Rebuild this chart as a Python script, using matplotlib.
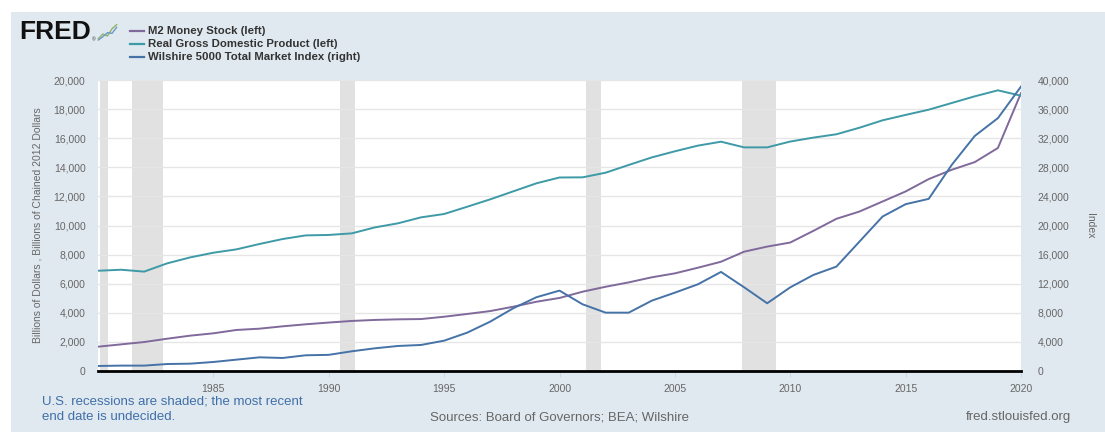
import matplotlib
matplotlib.use('Agg')
import matplotlib.pyplot as plt
from matplotlib.patches import Rectangle

plt.rcParams['font.family'] = ['Liberation Sans', 'DejaVu Sans']

# ---- data ----
years = list(range(1980, 2021))
m2 = [1670, 1830, 1990, 2220, 2430, 2590, 2820, 2910, 3070, 3210, 3330,
      3440, 3510, 3550, 3570, 3730, 3920, 4120, 4420, 4760, 5020,
      5450, 5790, 6090, 6440, 6710, 7100, 7510, 8200, 8550, 8830,
      9630, 10460, 10960, 11650, 12340, 13190, 13830, 14360, 15330, 19100]
gdp = [6890, 6960, 6830, 7400, 7810, 8130, 8360, 8730, 9070, 9320, 9350,
       9460, 9870, 10150, 10560, 10790, 11290, 11800, 12350, 12900, 13300,
       13310, 13630, 14160, 14680, 15100, 15490, 15760, 15370, 15370, 15770,
       16040, 16270, 16720, 17230, 17600, 17960, 18420, 18880, 19290, 18920]
wilshire = [690, 740, 740, 960, 1010, 1240, 1560, 1880, 1790, 2160, 2220,
            2710, 3120, 3440, 3580, 4170, 5270, 6790, 8630, 10140, 11050,
            9170, 8020, 8020, 9670, 10770, 11920, 13620, 11510, 9310, 11500,
            13200, 14350, 17790, 21230, 22930, 23660, 28340, 32320, 34760, 39100]
recessions = [(1980.08, 1980.45), (1981.47, 1982.80), (1990.50, 1991.13),
              (2001.15, 2001.82), (2007.92, 2009.40)]
x_ticks = [1985, 1990, 1995, 2000, 2005, 2010, 2015, 2020]
left_ticks = list(range(0, 20001, 2000))
right_ticks = list(range(0, 40001, 4000))
series_labels = ['M2 Money Stock (left)', 'Real Gross Domestic Product (left)',
                 'Wilshire 5000 Total Market Index (right)']
colors = ['#80699b', '#3d9aa6', '#4572a7']

W, H = 1105, 432
fig = plt.figure(figsize=(W / 100, H / 100), dpi=100)
fig.patch.set_facecolor('white')
fig.patches.append(Rectangle((11 / W, 0), 1 - 11 / W, (H - 12) / H,
                             transform=fig.transFigure, facecolor='#e1e9f0',
                             edgecolor='none', zorder=-10))

def fx(px):
    return px / W

def fy(py):
    return 1 - py / H

x0, x1, ytop, ybot = 98, 1021, 80, 371
ax = fig.add_axes([fx(x0), fy(ybot), fx(x1) - fx(x0), fy(ytop) - fy(ybot)])
ax.set_facecolor('white')
ax.set_xlim(1980, 2020)
ax.set_ylim(0, 20000)
for s, e in recessions:
    ax.axvspan(s, e, color='#e1e1e1', lw=0, zorder=0)
ax.set_yticks(left_ticks)
ax.set_yticklabels([f'{v:,}' for v in left_ticks])
ax.grid(axis='y', color='#e6e6e6', lw=1, zorder=0.5)
ax.set_xticks(x_ticks)
ax.set_xticklabels([str(t) for t in x_ticks])
ax.tick_params(axis='y', length=0, pad=9, labelsize=7.5, labelcolor='#666666')
ax.tick_params(axis='x', length=4, color='#ccd6eb', pad=5, labelsize=7.5,
               labelcolor='#666666')
for sp in ['top', 'left', 'right']:
    ax.spines[sp].set_visible(False)
ax.spines['bottom'].set_color('black')
ax.spines['bottom'].set_linewidth(2)
ax.spines['bottom'].set_zorder(5)
ax.set_ylabel('Billions of Dollars , Billions of Chained 2012 Dollars',
              fontsize=7.5, color='#666666', labelpad=8)

ax.plot(years, m2, color=colors[0], lw=1.4, zorder=3)
ax.plot(years, gdp, color=colors[1], lw=1.4, zorder=3)

ax2 = ax.twinx()
ax2.set_ylim(0, 40000)
ax2.set_yticks(right_ticks)
ax2.set_yticklabels([f'{v:,}' for v in right_ticks])
ax2.tick_params(axis='y', length=0, pad=12, labelsize=7.5, labelcolor='#666666')
for sp in ['top', 'left', 'right', 'bottom']:
    ax2.spines[sp].set_visible(False)
ax2.plot(years, wilshire, color=colors[2], lw=1.4, zorder=3)
ax2.set_ylabel('Index', fontsize=7.5, color='#666666', rotation=270, labelpad=18)

# ---- header: FRED logo + legend ----
fig.text(fx(19), fy(32), 'FRED', fontsize=19, fontweight='heavy', color='#111111',
         va='center', ha='left')
fig.text(fx(92), fy(40), '®', fontsize=3.5, color='#333333', va='center')
icon = fig.add_axes([fx(97), fy(42), fx(21), fy(22) - fy(42)])
icon.set_facecolor('#dfe6ee')
icon.plot([0, 1, 2, 3, 4], [0.5, 1.2, 0.9, 2.0, 2.6], color='#8fb36a', lw=1)
icon.plot([0, 1, 2, 3, 4], [0.3, 0.8, 1.4, 1.3, 2.2], color='#6a9ac4', lw=1)
icon.set_xlim(-0.3, 4.3)
icon.set_ylim(0, 3)
icon.axis('off')

for i, (lab, c) in enumerate(zip(series_labels, colors)):
    yy = fy(31 + 13 * i)
    fig.add_artist(plt.Line2D([fx(130), fx(144)], [yy, yy], color=c, lw=1.6,
                              transform=fig.transFigure))
    fig.text(fx(148), yy, lab, fontsize=8.2, fontweight='bold', color='#333333',
             va='center', ha='left')

# ---- footer ----
fig.text(fx(42), fy(401), 'U.S. recessions are shaded; the most recent',
         fontsize=9.5, color='#3f6fa8', va='center', ha='left')
fig.text(fx(42), fy(417), 'end date is undecided.',
         fontsize=9.5, color='#3f6fa8', va='center', ha='left')
fig.text(fx(560), fy(417), 'Sources: Board of Governors; BEA; Wilshire',
         fontsize=9.5, color='#666666', va='center', ha='center')
fig.text(fx(1071), fy(417), 'fred.stlouisfed.org',
         fontsize=9.5, color='#666666', va='center', ha='right')

fig.savefig('out.png', dpi=100, facecolor=fig.get_facecolor())
